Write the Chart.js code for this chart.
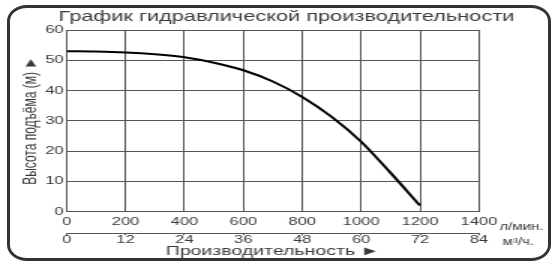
<!DOCTYPE html>
<html>
<head>
<meta charset="utf-8">
<script src="https://cdn.jsdelivr.net/npm/chart.js@4/dist/chart.umd.min.js"></script>
<style>
  html, body { margin: 0; padding: 0; background: #fff; overflow: hidden; }
  #wrap { width: 372px; height: 269px; transform: scaleX(1.5); transform-origin: 0 0; }
  #pump { display: block; }
  #frame {
    position: absolute; left: 7px; top: 5px; width: 538px; height: 250px;
    border-style: solid; border-color: #333; border-width: 3px;
    border-radius: 20px / 16px; pointer-events: none;
  }
</style>
</head>
<body>
<div id="wrap"><canvas id="pump" width="372" height="269"></canvas></div>
<div id="frame"></div>
<script>
// расход, л/мин и напор, м
const flowLpm = [0, 100, 200, 300, 400, 500, 600, 700, 800, 900, 1000, 1100, 1200];
const headM = [53.0, 52.9, 52.6, 52.0, 51.0, 49.2, 46.7, 43.0, 37.9, 31.3, 23.1, 12.8, 2.0];

const lpmTicks = [0, 200, 400, 600, 800, 1000, 1200, 1400];
const m3hTicks = [0, 12, 24, 36, 48, 60, 72, 84];
const headTicks = [0, 10, 20, 30, 40, 50, 60];

const textColor = '#3a3a3a';
const gridColor = '#555';
const fontFamily = '"Liberation Sans", Arial, sans-serif';

function fixTicks(list) {
    return function(scale) {
        scale.ticks = list.map(v => ({ value: v }));
    };
}
const plainLabel = v => String(v);

const labelsPlugin = {
    id: 'labels',
    afterDraw(chart) {
        const ctx = chart.ctx;
        ctx.save();
        ctx.fillStyle = textColor;
        ctx.textBaseline = 'middle';
        ctx.textAlign = 'center';
        ctx.font = '14.5px ' + fontFamily;
        ctx.fillText('График гидравлической производительности', 191, 16.5);

        ctx.font = '10px ' + fontFamily;
        ctx.textAlign = 'left';
        ctx.fillText('л/мин.', 333, 227);
        ctx.fillText('м³/ч.', 335, 242);
        ctx.restore();
    }
};

const ctx = document.getElementById('pump').getContext('2d');
new Chart(ctx, {
    type: 'line',
    data: {
        datasets: [{
            data: flowLpm.map((q, i) => ({ x: q, y: headM[i] })),
            borderColor: '#000',
            borderWidth: 2,
            pointRadius: 0,
            cubicInterpolationMode: 'monotone',
            fill: false
        }]
    },
    options: {
        responsive: false,
        animation: false,
        layout: { padding: { left: 13.8, right: 52.7, top: 30, bottom: 11.3 } },
        plugins: {
            legend: { display: false },
            tooltip: { enabled: false },
            title: { display: false }
        },
        scales: {
            x: {
                type: 'linear',
                min: 0,
                max: 1400,
                afterBuildTicks: fixTicks(lpmTicks),
                grid: { color: gridColor, lineWidth: 1, drawTicks: false },
                border: { color: gridColor },
                ticks: { color: textColor, padding: 5, maxRotation: 0, callback: plainLabel,
                         font: { family: fontFamily, size: 11, lineHeight: 1.05 } }
            },
            x2: {
                type: 'linear',
                position: 'bottom',
                min: 0,
                max: 84,
                afterBuildTicks: fixTicks(m3hTicks),
                grid: { drawOnChartArea: false, color: gridColor, tickLength: 2 },
                border: { color: gridColor },
                ticks: { color: textColor, padding: -1, maxRotation: 0, callback: plainLabel,
                         font: { family: fontFamily, size: 11, lineHeight: 1 } },
                title: {
                    display: true,
                    text: 'Производительность ►',
                    color: textColor,
                    padding: { top: 0.5, bottom: 0 },
                    font: { family: fontFamily, size: 13, lineHeight: 1 }
                }
            },
            y: {
                min: 0,
                max: 60,
                afterBuildTicks: fixTicks(headTicks),
                grid: { color: gridColor, lineWidth: 1, drawTicks: false },
                border: { color: gridColor },
                ticks: { color: textColor, padding: 2, callback: plainLabel,
                         font: { family: fontFamily, size: 11 } },
                title: {
                    display: true,
                    text: 'Высота подъёма (м) ►',
                    color: textColor,
                    padding: { top: 0, bottom: 0 },
                    font: { family: fontFamily, size: 12 }
                }
            }
        }
    },
    plugins: [labelsPlugin]
});
</script>
</body>
</html>
